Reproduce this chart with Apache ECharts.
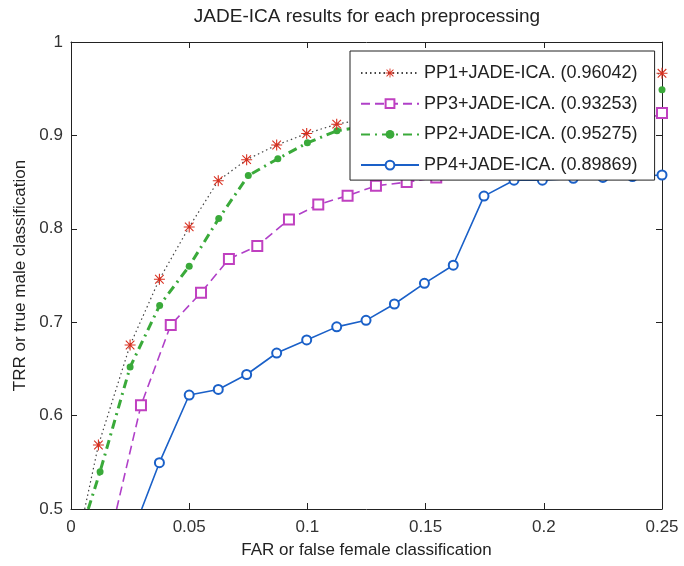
<!DOCTYPE html>
<html>
<head>
<meta charset="utf-8">
<script src="https://cdn.jsdelivr.net/npm/echarts@6/dist/echarts.min.js"></script>
<style>html,body{margin:0;padding:0;background:#fff;}#c{width:684px;height:566px;}</style>
</head>
<body>
<div id="c"></div>
<script>
var titleText = 'JADE-ICA results for each preprocessing';
var xName = 'FAR or false female classification';
var yName = 'TRR or true male classification';
var xTicks = [0, 0.05, 0.1, 0.15, 0.2, 0.25];
var yTicks = [0.5, 0.6, 0.7, 0.8, 0.9, 1];

var seriesNames = ['PP1+JADE-ICA. (0.96042)', 'PP3+JADE-ICA. (0.93253)', 'PP2+JADE-ICA. (0.95275)', 'PP4+JADE-ICA. (0.89869)'];

var pp1X = [0.0058, 0.0116, 0.025, 0.0374, 0.05, 0.0623, 0.0743, 0.087, 0.0997, 0.1124, 0.125, 0.1375, 0.15, 0.1625, 0.175, 0.1875, 0.2, 0.2125, 0.225, 0.2375, 0.25];
var pp1Y = [0.5, 0.5685, 0.6756, 0.746, 0.802, 0.8515, 0.874, 0.8897, 0.902, 0.912, 0.918, 0.924, 0.929, 0.934, 0.939, 0.944, 0.949, 0.953, 0.958, 0.962, 0.9665];

var pp3X = [0.0193, 0.0296, 0.0422, 0.055, 0.0668, 0.0788, 0.0922, 0.1046, 0.117, 0.129, 0.142, 0.1545, 0.167, 0.18, 0.192, 0.205, 0.217, 0.23, 0.242, 0.25];
var pp3Y = [0.5, 0.611, 0.697, 0.7316, 0.7677, 0.7816, 0.81, 0.826, 0.8355, 0.846, 0.85, 0.855, 0.862, 0.87, 0.878, 0.886, 0.895, 0.905, 0.915, 0.924];

var pp2X = [0.0073, 0.0123, 0.025, 0.0375, 0.05, 0.0625, 0.075, 0.0875, 0.1, 0.1125, 0.125, 0.1375, 0.15, 0.1625, 0.175, 0.1875, 0.2, 0.2125, 0.225, 0.2375, 0.25];
var pp2Y = [0.5, 0.54, 0.652, 0.718, 0.76, 0.811, 0.857, 0.875, 0.892, 0.905, 0.91, 0.915, 0.92, 0.924, 0.928, 0.932, 0.936, 0.939, 0.942, 0.946, 0.949];

var pp4X = [0.0299, 0.0374, 0.05, 0.0623, 0.0743, 0.087, 0.0997, 0.1124, 0.1248, 0.1368, 0.1495, 0.1617, 0.1747, 0.1874, 0.1994, 0.2125, 0.225, 0.2375, 0.25];
var pp4Y = [0.5, 0.5496, 0.622, 0.628, 0.644, 0.667, 0.681, 0.695, 0.702, 0.7195, 0.7416, 0.761, 0.835, 0.852, 0.852, 0.854, 0.855, 0.856, 0.8576];

function build(xs, ys) {
  var out = [];
  for (var i = 0; i < xs.length; i++) {
    // first vertex is the curve's entry point at the bottom edge: no marker
    if (i === 0) out.push({value: [xs[i], ys[i]], symbol: 'none'});
    else out.push([xs[i], ys[i]]);
  }
  return out;
}

var asterisk = 'path://M9,0L11,0L11,20L9,20Z M0,9L20,9L20,11L0,11Z M2.9,1.5L18.5,17.1L17.1,18.5L1.5,2.9Z M17.1,1.5L18.5,2.9L2.9,18.5L1.5,17.1Z';
var FONT = 'Liberation Sans, Arial, sans-serif';
var axisCol = '#222';

var chart = echarts.init(document.getElementById('c'), null, {renderer: 'canvas'});
chart.setOption({
  animation: false,
  backgroundColor: '#fff',
  title: {
    text: titleText, left: 362, top: 2, textAlign: 'center',
    textStyle: {fontFamily: FONT, fontSize: 19, fontWeight: 'normal', color: '#222'}
  },
  grid: {left: 71, top: 42, right: 22, bottom: 57, show: false},
  legend: {
    z: 20, zlevel: 0,
    orient: 'vertical', left: 350, top: 51,
    padding: [13, 17, 6, 10],
    itemWidth: 58, itemHeight: 11, itemGap: 12.7,
    backgroundColor: '#fff', borderColor: '#222', borderWidth: 1,
    textStyle: {fontFamily: FONT, fontSize: 18, color: '#222', lineHeight: 18},
    data: seriesNames
  },
  xAxis: [{
    type: 'value', min: 0, max: 0.25, interval: 0.05,
    name: xName, nameLocation: 'middle', nameGap: 33,
    nameTextStyle: {fontFamily: FONT, fontSize: 17, color: '#222'},
    axisLine: {show: true, onZero: false, lineStyle: {color: axisCol, width: 1}},
    axisTick: {show: true, inside: true, length: 6, lineStyle: {color: axisCol}},
    axisLabel: {fontFamily: FONT, fontSize: 17, color: '#333', margin: 10,
      formatter: function (v) { return String(+v.toFixed(2)); }},
    splitLine: {show: false}
  }, {
    type: 'value', position: 'top', min: 0, max: 0.25, interval: 0.05,
    axisLine: {show: true, onZero: false, lineStyle: {color: axisCol, width: 1}},
    axisTick: {show: true, inside: true, length: 6, lineStyle: {color: axisCol}},
    axisLabel: {show: false}, splitLine: {show: false}
  }],
  yAxis: [{
    type: 'value', min: 0.5, max: 1, interval: 0.1,
    name: yName, nameLocation: 'middle', nameGap: 40, nameRotate: 90,
    nameTextStyle: {fontFamily: FONT, fontSize: 17, color: '#222'},
    axisLine: {show: true, onZero: false, lineStyle: {color: axisCol, width: 1}},
    axisTick: {show: true, inside: true, length: 6, lineStyle: {color: axisCol}},
    axisLabel: {fontFamily: FONT, fontSize: 17, color: '#333', margin: 8,
      formatter: function (v) { return String(+v.toFixed(1)); }},
    splitLine: {show: false}
  }, {
    type: 'value', position: 'right', min: 0.5, max: 1, interval: 0.1,
    axisLine: {show: true, onZero: false, lineStyle: {color: axisCol, width: 1}},
    axisTick: {show: true, inside: true, length: 6, lineStyle: {color: axisCol}},
    axisLabel: {show: false}, splitLine: {show: false}
  }],
  series: [{
    name: seriesNames[0], type: 'line', data: build(pp1X, pp1Y), clip: true,
    symbol: asterisk, symbolSize: 11, z: 5,
    itemStyle: {color: '#d83020'},
    lineStyle: {color: '#444', width: 1.2, type: [1.5, 3]}
  }, {
    name: seriesNames[1], type: 'line', data: build(pp3X, pp3Y), clip: true,
    symbol: 'emptyRect', symbolSize: 10, z: 4,
    itemStyle: {color: '#c040c0', borderColor: '#a040c8', borderWidth: 1.3},
    lineStyle: {color: '#b040c8', width: 1.6, type: [9, 5]}
  }, {
    name: seriesNames[2], type: 'line', data: build(pp2X, pp2Y), clip: true,
    symbol: 'circle', symbolSize: 7, z: 3,
    itemStyle: {color: '#3aaa3a'},
    lineStyle: {color: '#3aaa3a', width: 3, type: [9, 5, 2, 5]}
  }, {
    name: seriesNames[3], type: 'line', data: build(pp4X, pp4Y), clip: true,
    symbol: 'emptyCircle', symbolSize: 9, z: 4,
    itemStyle: {color: '#1a60c8', borderColor: '#1a60c8', borderWidth: 1.3},
    lineStyle: {color: '#1a60c8', width: 1.6}
  }]
});
</script>
</body>
</html>
